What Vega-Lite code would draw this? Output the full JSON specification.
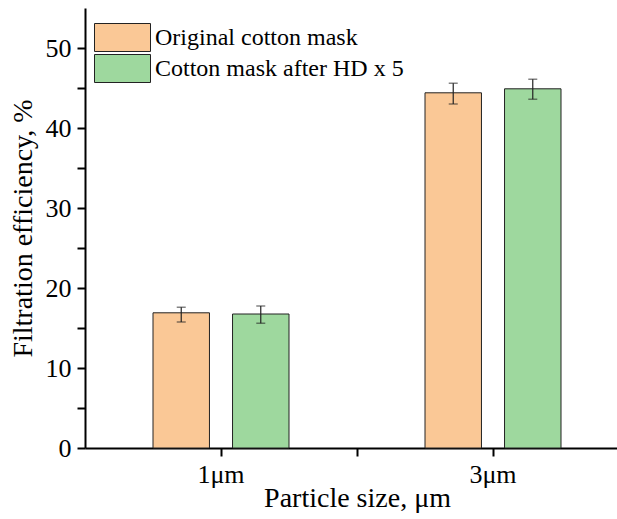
{
  "$schema": "https://vega.github.io/schema/vega-lite/v6.json",
  "width": 532,
  "height": 440,
  "autosize": {"type": "none"},
  "padding": {"left": 85, "top": 8, "right": 0, "bottom": 71},
  "background": "white",
  "config": {
    "view": {"stroke": null},
    "axis": {"grid": false}
  },
  "data": {
    "values": [
      {"size": "1μm", "group": "Original cotton mask", "eff": 16.9, "lo": 15.75, "hi": 17.6},
      {"size": "1μm", "group": "Cotton mask after HD x 5", "eff": 16.75, "lo": 15.6, "hi": 17.75},
      {"size": "3μm", "group": "Original cotton mask", "eff": 44.4, "lo": 43.0, "hi": 45.6},
      {"size": "3μm", "group": "Cotton mask after HD x 5", "eff": 44.9, "lo": 43.6, "hi": 46.1}
    ]
  },
  "encoding": {
    "x": {
      "field": "size",
      "type": "nominal",
      "scale": {"domain": ["1μm", "2μm", "3μm"], "range": [0, 544], "paddingInner": 0, "paddingOuter": 0.5},
      "axis": {
        "title": "Particle size, μm",
        "grid": false,
        "labelAngle": 0,
        "domainColor": "#000",
        "domainWidth": 2,
        "tickColor": "#000",
        "tickWidth": 2,
        "tickSize": 8,
        "labelFont": "Liberation Serif",
        "labelFontSize": 26,
        "labelColor": "#000",
        "titleFont": "Liberation Serif",
        "titleFontSize": 28,
        "titleFontWeight": "normal",
        "titleColor": "#000",
        "labelExpr": "datum.value == '2μm' ? '' : datum.value",
        "labelPadding": 5,
        "titlePadding": -3
      }
    },
    "xOffset": {
      "field": "group",
      "type": "nominal",
      "sort": ["Original cotton mask", "Cotton mask after HD x 5"],
      "scale": {"paddingInner": 0.29, "paddingOuter": 0}
    }
  },
  "layer": [
    {
      "mark": {"type": "bar", "stroke": "#222", "strokeWidth": 1},
      "encoding": {
        "y": {
          "field": "eff",
          "type": "quantitative",
          "scale": {"domain": [0, 55], "nice": false},
          "axis": {
            "title": "Filtration efficiency, %",
            "grid": false,
            "domainColor": "#000",
            "domainWidth": 2,
            "tickColor": "#000",
            "tickWidth": 2,
            "tickSize": 8,
            "labelFont": "Liberation Serif",
            "labelFontSize": 26,
            "labelColor": "#000",
            "titleFont": "Liberation Serif",
            "titleFontSize": 28,
            "titleFontWeight": "normal",
            "titleColor": "#000",
            "values": [0, 5, 10, 15, 20, 25, 30, 35, 40, 45, 50],
            "labelExpr": "datum.value % 10 == 0 ? datum.label : ''",
            "labelPadding": 6,
            "titlePadding": 8
          }
        },
        "color": {
          "field": "group",
          "type": "nominal",
          "sort": ["Original cotton mask", "Cotton mask after HD x 5"],
          "scale": {"domain": ["Original cotton mask", "Cotton mask after HD x 5"], "range": ["#FAC896", "#9ED89E"]},
          "legend": {
            "title": null,
            "orient": "none",
            "legendX": 23,
            "legendY": 15,
            "symbolType": "M-2,-1H2V1H-2Z",
            "symbolSize": 784,
            "symbolStrokeColor": "#222",
            "symbolStrokeWidth": 1,
            "symbolOpacity": 1,
            "labelFont": "Liberation Serif",
            "labelFontSize": 24,
            "labelColor": "#000",
            "labelOffset": 18,
            "labelLimit": 0,
            "rowPadding": -2,
            "padding": 0
          }
        }
      }
    },
    {
      "mark": {"type": "rule", "color": "#222", "strokeWidth": 1.2},
      "encoding": {
        "y": {"field": "lo", "type": "quantitative"},
        "y2": {"field": "hi"}
      }
    },
    {
      "mark": {"type": "tick", "color": "#222", "size": 9, "thickness": 1.2},
      "encoding": {
        "y": {"field": "lo", "type": "quantitative"}
      }
    },
    {
      "mark": {"type": "tick", "color": "#222", "size": 9, "thickness": 1.2},
      "encoding": {
        "y": {"field": "hi", "type": "quantitative"}
      }
    }
  ]
}
